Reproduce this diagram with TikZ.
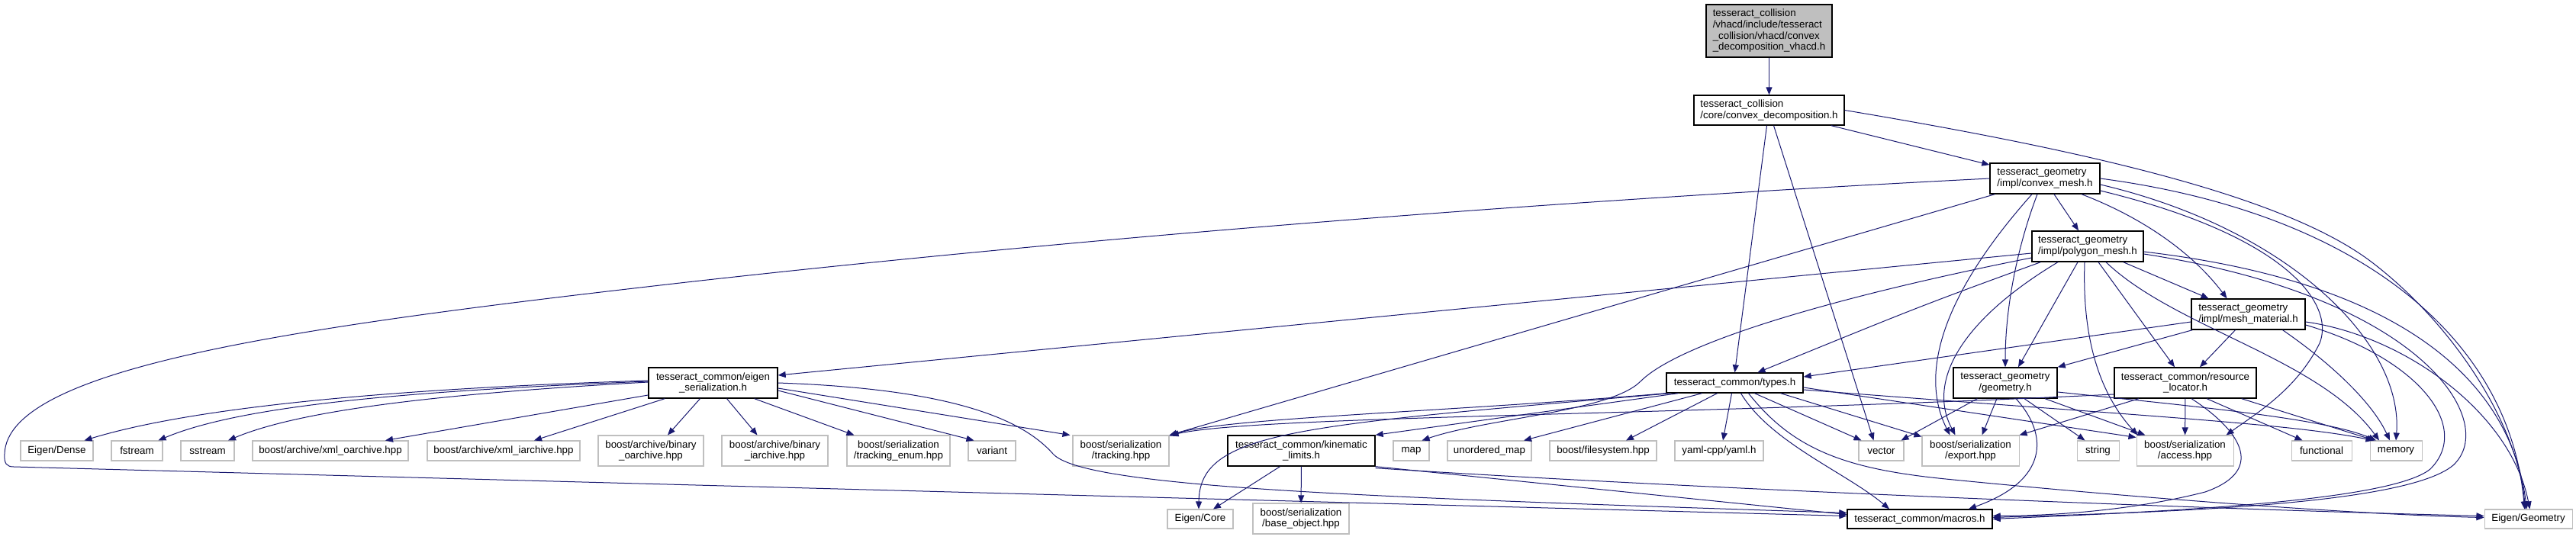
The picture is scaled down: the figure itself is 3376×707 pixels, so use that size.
\documentclass[tikz,border=0pt]{standalone}
\usepackage{fontspec}
\setmainfont{Liberation Sans}
\usepackage{tikz}
\usetikzlibrary{arrows.meta, calc}
\definecolor{edgeblue}{HTML}{191970}
\definecolor{libgray}{HTML}{BFBFBF}
\definecolor{rootfill}{HTML}{BFBFBF}

\begin{document}
\begin{tikzpicture}[x=0.75pt, y=-0.75pt,
  boxsz/.style 2 args={minimum width=#1*0.75pt, minimum height=#2*0.75pt},
  hdr/.style={draw=black, fill=white, line width=1pt, inner sep=0pt,
              font=\fontsize{10}{11}\selectfont},
  rootbox/.style={hdr, fill=rootfill},
  lib/.style={draw=libgray, fill=white, line width=0.8pt, inner sep=0pt,
              font=\fontsize{10}{11}\selectfont},
  inc/.style={draw=edgeblue, line width=0.75pt,
              -{Triangle[length=7.5pt, width=6pt]}, edgeblue}]
  \useasboundingbox (0,0) rectangle (3376,707);

  % project headers
  \node[rootbox, boxsz={165}{69}, align=left] (root) at (2318.5,40.5)
    {tesseract\_collision\\/vhacd/include/tesseract\\\_collision/vhacd/convex\\\_decomposition\_vhacd.h};
  \node[hdr, boxsz={197}{39}, align=left] (cdec) at (2318.5,144.5)
    {tesseract\_collision\\/core/convex\_decomposition.h};
  \node[hdr, boxsz={144}{40}, align=left] (cmesh) at (2680,234)
    {tesseract\_geometry\\/impl/convex\_mesh.h};
  \node[hdr, boxsz={146}{40}, align=left] (pmesh) at (2736,323)
    {tesseract\_geometry\\/impl/polygon\_mesh.h};
  \node[hdr, boxsz={149}{40}, align=left] (mmat) at (2946.5,412)
    {tesseract\_geometry\\/impl/mesh\_material.h};
  \node[hdr, boxsz={169}{40}, align=center] (eser) at (934.5,502)
    {tesseract\_common/eigen\\\_serialization.h};
  \node[hdr, boxsz={179}{26}] (types) at (2273.5,502) {tesseract\_common/types.h};
  \node[hdr, boxsz={136}{40}, align=center] (geom) at (2628,502)
    {tesseract\_geometry\\/geometry.h};
  \node[hdr, boxsz={186}{40}, align=center] (rloc) at (2864,502)
    {tesseract\_common/resource\\\_locator.h};
  \node[hdr, boxsz={193}{40}, align=center] (kin) at (1705.5,591)
    {tesseract\_common/kinematic\\\_limits.h};
  \node[hdr, boxsz={190}{25}] (macros) at (2516,680.5) {tesseract\_common/macros.h};

  % system and library headers
  \node[lib, boxsz={95}{26}] (edense) at (74.5,591) {Eigen/Dense};
  \node[lib, boxsz={67}{26}] (fstream) at (179.5,591) {fstream};
  \node[lib, boxsz={70}{26}] (sstream) at (272,591) {sstream};
  \node[lib, boxsz={204}{26}] (xmlo) at (433,591) {boost/archive/xml\_oarchive.hpp};
  \node[lib, boxsz={200}{26}] (xmli) at (660,591) {boost/archive/xml\_iarchive.hpp};
  \node[lib, boxsz={138}{40}, align=center] (bino) at (853,591) {boost/archive/binary\\\_oarchive.hpp};
  \node[lib, boxsz={139}{40}, align=center] (bini) at (1015.5,591) {boost/archive/binary\\\_iarchive.hpp};
  \node[lib, boxsz={135}{40}, align=center] (trenum) at (1177.5,591) {boost/serialization\\/tracking\_enum.hpp};
  \node[lib, boxsz={62}{26}] (variant) at (1300,591) {variant};
  \node[lib, boxsz={126}{40}, align=center] (tracking) at (1469,591) {boost/serialization\\/tracking.hpp};
  \node[lib, boxsz={47}{26}] (map) at (1849.5,591) {map};
  \node[lib, boxsz={110}{26}] (umap) at (1952,591) {unordered\_map};
  \node[lib, boxsz={140}{26}] (fsys) at (2101,591) {boost/filesystem.hpp};
  \node[lib, boxsz={116}{26}] (yaml) at (2253,591) {yaml-cpp/yaml.h};
  \node[lib, boxsz={59}{26}] (vector) at (2465.5,591) {vector};
  \node[lib, boxsz={127}{40}, align=center] (export) at (2582.5,591) {boost/serialization\\/export.hpp};
  \node[lib, boxsz={55}{26}] (string) at (2749.5,591) {string};
  \node[lib, boxsz={127}{40}, align=center] (access) at (2863.5,591) {boost/serialization\\/access.hpp};
  \node[lib, boxsz={79}{26}] (functional) at (3042.5,591) {functional};
  \node[lib, boxsz={68}{26}] (memory) at (3140,591) {memory};
  \node[lib, boxsz={86}{25}] (ecore) at (1573,680.5) {Eigen/Core};
  \node[lib, boxsz={126}{40}, align=center] (baseobj) at (1705,680) {boost/serialization\\/base\_object.hpp};
  \node[lib, boxsz={115}{25}] (egeo) at (3313.5,680.5) {Eigen/Geometry};

  % root file
  \draw[inc] (root) -- (cdec);

  % convex_decomposition.h
  \draw[inc] (cdec) -- (cmesh);
  \draw[inc] ($(cdec.south)+(-3,0)$) -- (types.north);
  \draw[inc] ($(cdec.south)+(6,0)$) -- ($(vector.north)+(-10,0)$);
  \draw[inc] (cdec.east) .. controls (2750,200) and (3000,260) .. (3110,345)
    .. controls (3220,430) and (3300,560) .. ($(egeo.north)+(-4,0)$);

  % convex_mesh.h
  \draw[inc] ($(cmesh.south)+(12,0)$) -- ($(pmesh.north)+(-12,0)$);
  \draw[inc] ($(cmesh.south)+(48,0)$) .. controls (2820,290) and (2880,340) .. ($(mmat.north)+(-28,0)$);
  \draw[inc] ($(cmesh.south)+(-10,0)$) .. controls (2645,320) and (2628,400) .. (geom.north);
  \draw[inc] ($(cmesh.south)+(-17,0)$) .. controls (2560,370) and (2510,480) .. ($(export.north)+(-27,0)$);
  \draw[inc] ($(cmesh.south west)+(7,0)$) -- (tracking.north east);
  \draw[inc] (cmesh.west) .. controls (1900,270) and (1300,325) .. (900,370)
    .. controls (400,427) and (10,480) .. (6,595)
    .. controls (5,608) and (9,612) .. (18,612) -- ($(macros.west)+(0,-4)$);
  \draw[inc] ($(cmesh.east)+(0,16)$) .. controls (3000,310) and (3060,400) .. (3040,450)
    .. controls (3010,510) and (2960,540) .. ($(access.north east)+(-10,0)$);
  \draw[inc] ($(cmesh.east)+(0,8)$) .. controls (3000,300) and (3150,450) .. (memory.north);
  \draw[inc] (cmesh.east) .. controls (3100,280) and (3290,450) .. ($(egeo.north)+(-5,0)$);

  % polygon_mesh.h
  \draw[inc] ($(pmesh.south east)+(-27,0)$) -- ($(mmat.north)+(-52,0)$);
  \draw[inc] ($(pmesh.west)+(0,9)$) -- ($(eser.east)+(0,-10)$);
  \draw[inc] ($(pmesh.south west)+(12,0)$) .. controls (2520,400) .. ($(types.north)+(30,0)$);
  \draw[inc] ($(pmesh.west)+(0,15)$) .. controls (2400,390) and (2200,450) .. (2150,500)
    .. controls (2110,540) and (1950,548) .. ($(map.north)+(14,0)$);
  \draw[inc] ($(pmesh.south)+(-13,0)$) -- ($(geom.north)+(17,0)$);
  \draw[inc] ($(pmesh.south)+(-39,0)$) .. controls (2570,420) and (2525,500) .. ($(export.north)+(-20,0)$);
  \draw[inc] ($(pmesh.south)+(-4,0)$) .. controls (2728,460) and (2760,525) .. ($(access.north west)+(2,0)$);
  \draw[inc] ($(pmesh.south)+(14,0)$) -- ($(rloc.north)+(-14,0)$);
  \draw[inc] ($(pmesh.south)+(24,0)$) .. controls (2850,430) and (3040,470) .. ($(memory.north)+(-22,0)$);
  \draw[inc] ($(pmesh.east)+(0,7)$) .. controls (3150,370) and (3290,500) .. ($(egeo.north)+(-2,0)$);
  \draw[inc] ($(pmesh.east)+(0,10)$) .. controls (3180,390) and (3275,555) .. (3215,610)
    .. controls (3150,665) and (2800,672) .. ($(macros.east)+(0,-2)$);

  % mesh_material.h
  \draw[inc] ($(mmat.west)+(0,10)$) -- ($(types.east)+(0,-8)$);
  \draw[inc] ($(mmat.south west)+(2,0)$) -- (geom.north east);
  \draw[inc] ($(mmat.south)+(-17,0)$) -- ($(rloc.north)+(19,0)$);
  \draw[inc] ($(mmat.south)+(45,0)$) .. controls (3060,480) and (3110,530) .. ($(memory.north)+(-8,0)$);
  \draw[inc] ($(mmat.east)+(0,10)$) .. controls (3150,440) and (3290,540) .. ($(egeo.north)+(2,0)$);
  \draw[inc] ($(mmat.east)+(0,14)$) .. controls (3170,470) and (3240,560) .. (3185,615)
    .. controls (3130,660) and (2800,672) .. (macros.east);

  % geometry.h
  \draw[inc] ($(geom.south west)+(32,0)$) -- ($(vector.north east)+(-4,0)$);
  \draw[inc] ($(geom.south)+(-11,0)$) -- ($(export.north)+(15,0)$);
  \draw[inc] ($(geom.south)+(14,0)$) .. controls (2685,570) and (2685,630) .. ($(macros.north)+(64,0)$);
  \draw[inc] ($(geom.south)+(25,0)$) -- ($(string.north)+(-17,0)$);
  \draw[inc] ($(geom.south)+(52,0)$) -- ($(access.north west)+(12,0)$);
  \draw[inc] ($(geom.east)+(0,12)$) .. controls (2900,535) and (3050,550) .. ($(memory.north)+(-26,0)$);

  % resource_locator.h
  \draw[inc] ($(rloc.west)+(0,15)$) .. controls (2200,545) and (1650,545) .. ($(tracking.north east)+(2,0)$);
  \draw[inc] ($(rloc.south)+(-61,0)$) -- (export.north east);
  \draw[inc] (rloc) -- (access);
  \draw[inc] ($(rloc.south)+(28,0)$) -- ($(functional.north)+(-25,0)$);
  \draw[inc] ($(rloc.south east)+(-20,0)$) -- ($(memory.north)+(-28,0)$);
  \draw[inc] ($(rloc.south)+(8,0)$) .. controls (2930,560) and (2975,615) .. (2890,645)
    .. controls (2800,668) and (2700,676) .. ($(macros.east)+(0,-4)$);

  % types.h
  \draw[inc] ($(types.south west)+(16,0)$) -- (kin.north east);
  \draw[inc] ($(types.south)+(-43,0)$) -- ($(umap.north)+(45,0)$);
  \draw[inc] ($(types.south)+(-23,0)$) -- ($(fsys.north)+(30,0)$);
  \draw[inc] ($(types.south)+(-4,0)$) -- ($(yaml.north)+(5,0)$);
  \draw[inc] ($(types.south)+(26,0)$) -- ($(vector.north west)+(4,0)$);
  \draw[inc] ($(types.south east)+(-30,0)$) -- ($(export.north west)+(0,2)$);
  \draw[inc] ($(types.east)+(0,6)$) -- ($(access.north west)+(0,3)$);
  \draw[inc] ($(types.east)+(0,9)$) .. controls (2800,545) and (3000,555) .. ($(memory.north west)+(5,0)$);
  \draw[inc] ($(types.south)+(18,0)$) .. controls (2350,590) and (2420,615) .. (2550,628)
    .. controls (2800,653) and (3100,675) .. ($(egeo.west)+(0,-2)$);
  \draw[inc] ($(types.south)+(8,0)$) .. controls (2320,580) and (2420,620) .. ($(macros.north)+(-40,0)$);
  \draw[inc] (types.south west) .. controls (1900,540) and (1600,548) .. ($(tracking.north east)+(0,1)$);
  \draw[inc] ($(types.south west)+(6,0)$) .. controls (1700,558) and (1572,565) .. ($(ecore.north)+(-2,0)$);

  % eigen_serialization.h
  \draw[inc] ($(eser.west)+(0,-3)$) .. controls (500,510) and (250,535) .. ($(edense.north)+(36,0)$);
  \draw[inc] ($(eser.west)+(0,-2)$) .. controls (550,512) and (320,530) .. ($(fstream.north)+(28,0)$);
  \draw[inc] ($(eser.west)+(0,-1)$) .. controls (600,515) and (400,535) .. ($(sstream.north)+(27,0)$);
  \draw[inc] ($(eser.west)+(0,16)$) -- ($(xmlo.north)+(72,0)$);
  \draw[inc] ($(eser.south west)+(22,0)$) -- ($(xmli.north)+(40,0)$);
  \draw[inc] ($(eser.south)+(-17,0)$) -- ($(bino.north)+(22,0)$);
  \draw[inc] ($(eser.south)+(18,0)$) -- ($(bini.north)+(-23,0)$);
  \draw[inc] ($(eser.south east)+(-31,0)$) -- ($(trenum.north west)+(10,0)$);
  \draw[inc] ($(eser.east)+(0,10)$) -- ($(variant.north west)+(8,0)$);
  \draw[inc] ($(eser.east)+(0,7)$) -- ($(tracking.north west)+(-3,0)$);
  \draw[inc] (eser.east) .. controls (1250,510) and (1340,550) .. (1380,595)
    .. controls (1420,640) and (1800,652) .. ($(macros.west)+(0,-8)$);

  % kinematic_limits.h
  \draw[inc] ($(kin.south)+(-28,0)$) -- ($(ecore.north)+(17,0)$);
  \draw[inc] (kin) -- (baseobj);
  \draw[inc] (kin.south east) -- ($(macros.west)+(0,-6)$);
  \draw[inc] ($(kin.south east)+(0,2)$) .. controls (2200,640) and (2900,668) .. ($(egeo.west)+(0,-4)$);
\end{tikzpicture}
\end{document}
